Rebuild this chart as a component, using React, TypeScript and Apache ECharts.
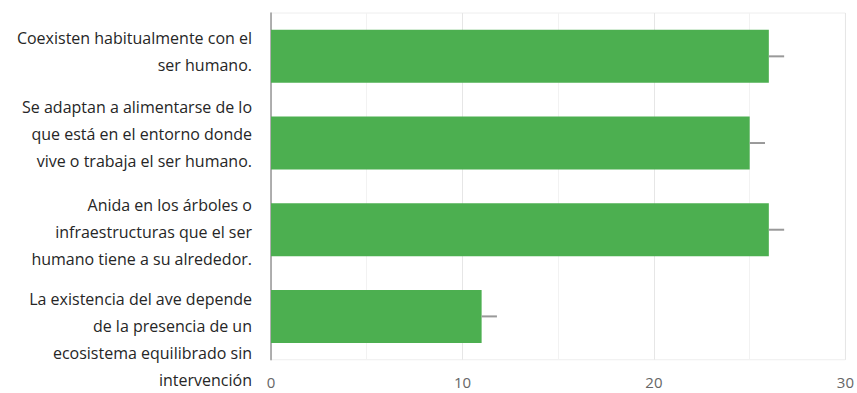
import React, { useEffect, useRef } from "react";
import * as echarts from "echarts";

const categories = [
  "Coexisten habitualmente con el\nser humano.",
  "Se adaptan a alimentarse de lo\nque está en el entorno donde\nvive o trabaja el ser humano.",
  "Anida en los árboles o\ninfraestructuras que el ser\nhumano tiene a su alrededor.",
  "La existencia del ave depende\nde la presencia de un\necosistema equilibrado sin\nintervención",
];
const values = [26, 25, 26, 11];
const errors = [0.8, 0.8, 0.8, 0.8];
const xTicks = [0, 10, 20, 30];

// vertical nudge of each label (spacer height above (+) or below (-))
const labelShift = [-9, -19, 5, 46];

export default function App() {
  const ref = useRef<HTMLDivElement>(null);
  useEffect(() => {
    if (!ref.current) return;
    const chart = echarts.init(ref.current, undefined, { renderer: "svg" });
    const rich: Record<string, any> = {};
    labelShift.forEach((s, i) => {
      rich["sp" + i] = { lineHeight: Math.abs(s), height: Math.abs(s), fontSize: 1 };
    });
    chart.setOption({
      animation: false,
      backgroundColor: "#ffffff",
      grid: {
        left: 271,
        right: 8,
        top: 13,
        bottom: 30,
        show: true,
        borderColor: "#eeeeee",
        borderWidth: 1,
      },
      xAxis: {
        type: "value",
        min: xTicks[0],
        max: xTicks[xTicks.length - 1],
        interval: 10,
        axisLine: { show: false },
        axisTick: { show: false },
        axisLabel: {
          color: "#666666",
          fontSize: 15,
          fontFamily: "Open Sans",
          margin: 15,
        },
        splitLine: { show: true, lineStyle: { color: "#e6e6e6", width: 1 } },
        minorTick: { show: false, splitNumber: 2 },
        minorSplitLine: { show: true, lineStyle: { color: "#f2f2f2", width: 1 } },
      },
      yAxis: {
        type: "category",
        inverse: true,
        data: categories,
        axisLine: { show: true, lineStyle: { color: "#999999", width: 1.5 } },
        axisTick: { show: false },
        splitLine: { show: false },
        axisLabel: {
          interval: 0,
          hideOverlap: false,
          color: "#262626",
          fontSize: 16,
          lineHeight: 27,
          fontFamily: "Open Sans",
          margin: 19,
          align: "right",
          rich,
          formatter: (value: string, idx: number) => {
            const s = labelShift[idx];
            if (s > 0) return `{sp${idx}| }\n` + value;
            if (s < 0) return value + `\n{sp${idx}| }`;
            return value;
          },
        },
      },
      series: [
        {
          type: "bar",
          data: values,
          barWidth: 53,
          itemStyle: { color: "#4caf50" },
          z: 2,
        },
        {
          type: "custom",
          data: values.map((v, i) => [v, i, errors[i]]),
          encode: { x: 0, y: 1 },
          z: 3,
          renderItem: (params: any, api: any) => {
            const v = api.value(0);
            const idx = api.value(1);
            const e = api.value(2);
            const p1 = api.coord([v, idx]);
            const p2 = api.coord([v + e, idx]);
            return {
              type: "line",
              shape: { x1: p1[0], y1: p1[1], x2: p2[0], y2: p2[1] },
              style: { stroke: "#999999", lineWidth: 2 },
            };
          },
        },
      ],
    });
    return () => chart.dispose();
  }, []);
  return (
    <div
      ref={ref}
      style={{ position: "fixed", left: 0, top: 0, width: 857, height: 393 }}
    />
  );
}
